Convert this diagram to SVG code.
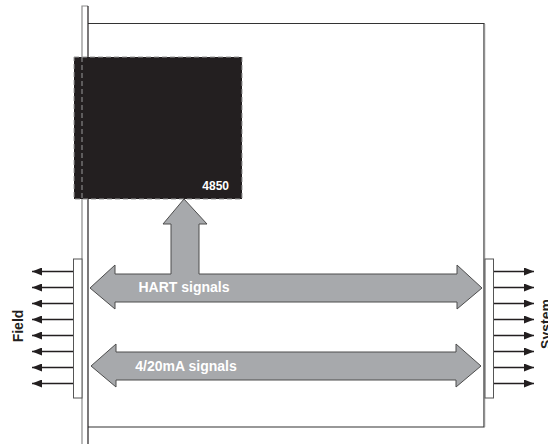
<svg xmlns="http://www.w3.org/2000/svg" width="548" height="444" viewBox="0 0 548 444">
<style>
.lbl{font-family:"Liberation Sans",Arial,sans-serif;font-weight:bold;}
.wt{fill:#ffffff;}
.bk{fill:#231f20;}
.big{fill:#a7a9ac;stroke:#4d4d4d;stroke-width:1;}
.pin{stroke:#231f20;stroke-width:1.4;fill:none;}
.conn{fill:#ffffff;stroke:#555555;stroke-width:1;}
</style>
<defs>
<marker id="ah" viewBox="0 0 10 8" refX="10" refY="4" markerWidth="10" markerHeight="8" markerUnits="userSpaceOnUse" orient="auto">
<path d="M0,0 L10,4 L0,8 Z" fill="#231f20"/>
</marker>
</defs>
<rect width="548" height="444" fill="#ffffff"/>
<g id="card">
<path d="M88,23.5 H484 V427 H88" fill="none" stroke="#333333" stroke-width="1.2"/>
<line x1="484.8" y1="24" x2="484.8" y2="427" stroke="#999999" stroke-width="0.8"/>
</g>
<g id="backplane">
<path d="M82,444 V6 H88" fill="none" stroke="#8c8c8c" stroke-width="1.2"/>
<line x1="88" y1="6" x2="88" y2="444" stroke="#231f20" stroke-width="1.2"/>
</g>
<g id="module-4850">
<rect x="74" y="57" width="168" height="142" fill="#231f20" stroke="#9a9a9a" stroke-width="1" stroke-dasharray="5 3"/>
<line x1="82" y1="57" x2="82" y2="199" stroke="#9a9a9a" stroke-width="1" stroke-dasharray="5 3"/>
<text class="lbl wt" x="229" y="190" font-size="12" text-anchor="end">4850</text>
</g>
<g id="connectors">
<path class="big" d="M90,288 L115,265 L115,274 L171,274 L171,224 L163,224 L184,199 L207,224 L199,224 L199,274 L457,274 L457,265 L482,288 L457,309 L457,302 L115,302 L115,309 Z"/>
<path class="big" d="M91,366 L116,344 L116,352 L456,352 L456,344 L481,366 L456,387 L456,380 L116,380 L116,387 Z"/>
<g id="field-pins">
<line class="pin" x1="73" y1="271.5" x2="32" y2="271.5" marker-end="url(#ah)"/>
<line class="pin" x1="73" y1="287.5" x2="32" y2="287.5" marker-end="url(#ah)"/>
<line class="pin" x1="73" y1="303.5" x2="32" y2="303.5" marker-end="url(#ah)"/>
<line class="pin" x1="73" y1="319.5" x2="32" y2="319.5" marker-end="url(#ah)"/>
<line class="pin" x1="73" y1="335.5" x2="32" y2="335.5" marker-end="url(#ah)"/>
<line class="pin" x1="73" y1="351.5" x2="32" y2="351.5" marker-end="url(#ah)"/>
<line class="pin" x1="73" y1="367.5" x2="32" y2="367.5" marker-end="url(#ah)"/>
<line class="pin" x1="73" y1="383.5" x2="32" y2="383.5" marker-end="url(#ah)"/>
</g>
<g id="system-pins">
<line class="pin" x1="493" y1="271.5" x2="534" y2="271.5" marker-end="url(#ah)"/>
<line class="pin" x1="493" y1="287.5" x2="534" y2="287.5" marker-end="url(#ah)"/>
<line class="pin" x1="493" y1="303.5" x2="534" y2="303.5" marker-end="url(#ah)"/>
<line class="pin" x1="493" y1="319.5" x2="534" y2="319.5" marker-end="url(#ah)"/>
<line class="pin" x1="493" y1="335.5" x2="534" y2="335.5" marker-end="url(#ah)"/>
<line class="pin" x1="493" y1="351.5" x2="534" y2="351.5" marker-end="url(#ah)"/>
<line class="pin" x1="493" y1="367.5" x2="534" y2="367.5" marker-end="url(#ah)"/>
<line class="pin" x1="493" y1="383.5" x2="534" y2="383.5" marker-end="url(#ah)"/>
</g>
</g>
<g id="field-connector">
<rect class="conn" x="73.5" y="259" width="8.5" height="139"/>
</g>
<g id="system-connector">
<rect class="conn" x="485" y="259" width="8.5" height="139"/>
</g>
<g id="labels">
<text class="lbl wt" x="184" y="292" font-size="14" text-anchor="middle">HART signals</text>
<text class="lbl wt" x="186" y="371" font-size="14" text-anchor="middle">4/20mA signals</text>
<text class="lbl bk" font-size="14" text-anchor="middle" transform="translate(23,326) rotate(-90)">Field</text>
<text class="lbl bk" font-size="14" text-anchor="middle" transform="translate(551,324) rotate(-90)">System</text>
</g>
</svg>
